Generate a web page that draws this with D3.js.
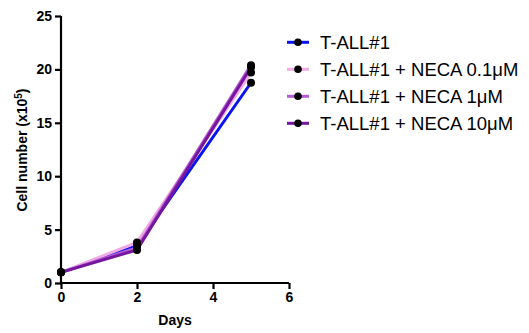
<!DOCTYPE html>
<html><head><meta charset="utf-8">
<script src="https://cdn.jsdelivr.net/npm/d3@7"></script>
<style>body{margin:0;background:#fff}</style>
</head><body><svg id="c" width="529" height="333"></svg>
<script>
const days = [0, 2, 5];
const seriesNames = ["T-ALL#1", "T-ALL#1 + NECA 0.1\u03bcM", "T-ALL#1 + NECA 1\u03bcM", "T-ALL#1 + NECA 10\u03bcM"];
const seriesColors = ["#0a14f0", "#f0aae4", "#b45ad2", "#76169e"];
const vControl = [1.0, 3.5, 18.75];
const vNeca01 = [1.0, 3.8, 19.7];
const vNeca1 = [1.0, 3.3, 20.4];
const vNeca10 = [1.0, 3.1, 20.2];
const xTicks = [0, 2, 4, 6];
const yTicks = [0, 5, 10, 15, 20, 25];
const allValues = [vControl, vNeca01, vNeca1, vNeca10];

const svg = d3.select("#c");
const x = d3.scaleLinear().domain([0, 6]).range([61, 289]);
const y = d3.scaleLinear().domain([0, 25]).range([283, 16]);

const line = d3.line().x((d, i) => x(days[i])).y(d => y(d));
allValues.forEach((vals, s) => {
  svg.append("path").datum(vals).attr("d", line)
    .attr("fill", "none").attr("stroke", seriesColors[s]).attr("stroke-width", 3);
});
allValues.forEach((vals) => {
  svg.selectAll(null).data(vals).enter().append("circle")
    .attr("cx", (d, i) => x(days[i])).attr("cy", d => y(d)).attr("r", 4).attr("fill", "#000");
});

const font = "Liberation Sans, Arial, sans-serif";
const ax = svg.append("g").attr("transform", "translate(0,283)")
  .call(d3.axisBottom(x).tickValues(xTicks).tickSize(6).tickPadding(3).tickFormat(d3.format("d")));
const ay = svg.append("g").attr("transform", "translate(61,0)")
  .call(d3.axisLeft(y).tickValues(yTicks).tickSize(6).tickPadding(3).tickFormat(d3.format("d")));
[ax, ay].forEach(g => {
  g.select(".domain").attr("stroke", "#000").attr("stroke-width", 2.2);
  g.selectAll(".tick line").attr("stroke", "#000").attr("stroke-width", 2.2);
  g.selectAll("text").attr("font-family", font).attr("font-weight", "bold").attr("font-size", 14).attr("fill", "#000");
});
ax.select(".domain").attr("d", "M61,0H289");
ay.select(".domain").attr("d", "M0,283V16");

svg.append("text").attr("x", 175).attr("y", 325).attr("text-anchor", "middle")
  .attr("font-family", font).attr("font-weight", "bold").attr("font-size", 14).text("Days");
const yl = svg.append("text").attr("transform", "translate(27,150) rotate(-90)").attr("text-anchor", "middle")
  .attr("font-family", font).attr("font-weight", "bold").attr("font-size", 14);
yl.append("tspan").text("Cell number (x10");
yl.append("tspan").attr("dy", -5).attr("font-size", 10).text("5");
yl.append("tspan").attr("dy", 5).text(")");

const leg = svg.append("g");
seriesNames.forEach((n, i) => {
  const ly = 42.3 + i * 27;
  leg.append("line").attr("x1", 287).attr("x2", 309).attr("y1", ly).attr("y2", ly)
    .attr("stroke", seriesColors[i]).attr("stroke-width", 3);
  leg.append("circle").attr("cx", 298).attr("cy", ly).attr("r", 3.8).attr("fill", "#000");
  leg.append("text").attr("x", 320).attr("y", ly + 6.8).attr("font-family", font)
    .attr("font-size", 18.5).attr("fill", "#000").text(n);
});
</script></body></html>
